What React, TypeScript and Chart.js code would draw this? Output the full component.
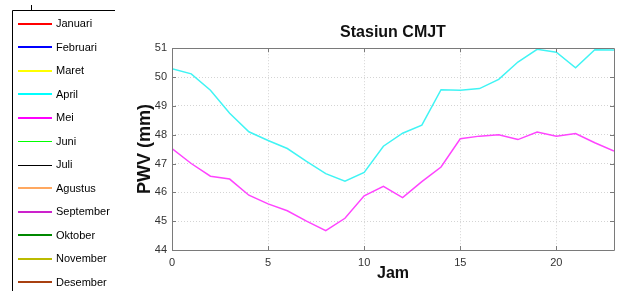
import React, { useEffect, useRef } from 'react';
import { Chart, registerables } from 'chart.js';

Chart.register(...registerables);

// ---- data ----
const hours = [0, 1, 2, 3, 4, 5, 6, 7, 8, 9, 10, 11, 12, 13, 14, 15, 16, 17, 18, 19, 20, 21, 22, 23];
const monthNames = ['Januari', 'Februari', 'Maret', 'April', 'Mei', 'Juni', 'Juli', 'Agustus', 'September', 'Oktober', 'November', 'Desember'];
const monthColors = ['#ff0000', '#0000ff', '#ffff00', '#00ffff', '#ff00ff', '#00ff00', '#000000', '#ffa860', '#cc22cc', '#008800', '#bbbb00', '#a84010'];
const monthWidths = [2, 2, 2, 2, 2, 1, 1, 2, 2, 2, 2, 2];
const aprilPWV = [50.29, 50.11, 49.54, 48.74, 48.1, 47.8, 47.52, 47.07, 46.65, 46.39, 46.69, 47.6, 48.05, 48.33, 49.56, 49.54, 49.6, 49.92, 50.52, 50.96, 50.86, 50.32, 50.95, 50.94];
const meiPWV = [47.52, 47.0, 46.56, 46.46, 45.9, 45.6, 45.36, 45.0, 44.67, 45.1, 45.88, 46.21, 45.82, 46.37, 46.88, 47.86, 47.95, 48.0, 47.83, 48.09, 47.95, 48.04, 47.72, 47.43];
const seriesByMonth: (number[] | null)[] = [null, null, null, aprilPWV, meiPWV, null, null, null, null, null, null, null];
const xTicks = [0, 5, 10, 15, 20];
const yTicks = [44, 45, 46, 47, 48, 49, 50, 51];

const lineColors: Record<number, string> = { 3: '#40f4f4', 4: '#ff44ff' };

const FONT = 'Arial, "Liberation Sans", sans-serif';

const boxPlugin = {
  id: 'matlabBox',
  afterDatasetsDraw(chart: any) {
    const { ctx, chartArea } = chart;
    const { left, right, top, bottom } = chartArea;
    ctx.save();
    ctx.strokeStyle = '#7a7a7a';
    ctx.lineWidth = 1;
    ctx.beginPath();
    ctx.rect(Math.round(left) + 0.5, Math.round(top) + 0.5, Math.round(right - left), Math.round(bottom - top));
    ctx.stroke();
    const xs = chart.scales.x;
    const ys = chart.scales.y;
    ctx.beginPath();
    xTicks.forEach((v) => {
      const px = Math.round(xs.getPixelForValue(v)) + 0.5;
      ctx.moveTo(px, bottom);
      ctx.lineTo(px, bottom - 4);
      ctx.moveTo(px, top);
      ctx.lineTo(px, top + 4);
    });
    yTicks.forEach((v) => {
      const py = Math.round(ys.getPixelForValue(v)) + 0.5;
      ctx.moveTo(left, py);
      ctx.lineTo(left + 4, py);
      ctx.moveTo(right, py);
      ctx.lineTo(right - 4, py);
    });
    ctx.stroke();
    ctx.restore();
  },
};

const legendPlugin = {
  id: 'sideLegend',
  afterDraw(chart: any) {
    const { ctx } = chart;
    ctx.save();
    ctx.strokeStyle = '#000000';
    ctx.lineWidth = 1;
    ctx.beginPath();
    ctx.moveTo(12.5, 291);
    ctx.lineTo(12.5, 10.5);
    ctx.lineTo(115, 10.5);
    ctx.moveTo(31.5, 5);
    ctx.lineTo(31.5, 10);
    ctx.stroke();
    ctx.font = `11px ${FONT}`;
    ctx.textBaseline = 'middle';
    ctx.textAlign = 'left';
    chart.data.datasets.forEach((ds: any, i: number) => {
      const y = 23.5 + 23.5 * i;
      const off = monthWidths[i] === 1 ? 0.5 : 0;
      ctx.strokeStyle = monthColors[i];
      ctx.lineWidth = monthWidths[i];
      ctx.beginPath();
      ctx.moveTo(18, Math.round(y) + off);
      ctx.lineTo(52, Math.round(y) + off);
      ctx.stroke();
      ctx.fillStyle = '#000000';
      ctx.fillText(ds.label, 56, y + 0.5);
    });
    ctx.restore();
  },
};

export default function App() {
  const canvasRef = useRef<HTMLCanvasElement | null>(null);

  useEffect(() => {
    const canvas = canvasRef.current;
    if (!canvas) return;
    const datasets = monthNames.map((name, i) => {
      const vals = seriesByMonth[i];
      return {
        label: name,
        data: vals ? hours.map((h, k) => ({ x: h, y: vals[k] })) : [],
        borderColor: lineColors[i] || monthColors[i],
        backgroundColor: lineColors[i] || monthColors[i],
        borderWidth: 1.5,
        pointRadius: 0,
        tension: 0,
        fill: false,
      };
    });
    const chart = new Chart(canvas, {
      type: 'line',
      data: { datasets },
      options: {
        animation: false,
        responsive: false,
        devicePixelRatio: 1,
        layout: { padding: { left: 130, right: 3, top: 0, bottom: 0 } },
        plugins: {
          legend: { display: false },
          tooltip: { enabled: false },
          title: {
            display: true,
            fullSize: false,
            text: 'Stasiun CMJT',
            color: '#111111',
            font: { family: FONT, size: 16, weight: 'bold' },
            padding: { top: 23, bottom: 6 },
          },
        },
        scales: {
          x: {
            type: 'linear',
            min: 0,
            max: 23,
            afterBuildTicks: (scale: any) => {
              scale.ticks = xTicks.map((v) => ({ value: v }));
            },
            afterFit: (scale: any) => {
              scale.height = 41;
            },
            ticks: {
              color: '#333333',
              font: { family: FONT, size: 11 },
              padding: 6,
              maxRotation: 0,
            },
            grid: { color: '#d4d4d4', drawTicks: false, lineWidth: 1 },
            border: { display: false, dash: [1, 2] },
            title: {
              display: true,
              text: 'Jam',
              color: '#111111',
              font: { family: FONT, size: 16, weight: 'bold' },
              padding: { top: 0, bottom: 8 },
            },
          },
          y: {
            type: 'linear',
            min: 44,
            max: 51,
            afterBuildTicks: (scale: any) => {
              scale.ticks = yTicks.map((v) => ({ value: v }));
            },
            afterFit: (scale: any) => {
              scale.width = 42;
            },
            ticks: {
              color: '#333333',
              font: { family: FONT, size: 11 },
              padding: 5,
            },
            grid: { color: '#d4d4d4', drawTicks: false, lineWidth: 1 },
            border: { display: false, dash: [1, 2] },
            title: {
              display: true,
              text: 'PWV (mm)',
              color: '#111111',
              font: { family: FONT, size: 18, weight: 'bold' },
              padding: { top: 4, bottom: 0 },
            },
          },
        },
      },
      plugins: [boxPlugin, legendPlugin],
    });
    return () => chart.destroy();
  }, []);

  return (
    <div style={{ position: 'fixed', left: 0, top: 0, width: 617, height: 291, background: '#ffffff', overflow: 'hidden' }}>
      <canvas ref={canvasRef} width={617} height={291} style={{ display: 'block', width: 617, height: 291 }} />
    </div>
  );
}
